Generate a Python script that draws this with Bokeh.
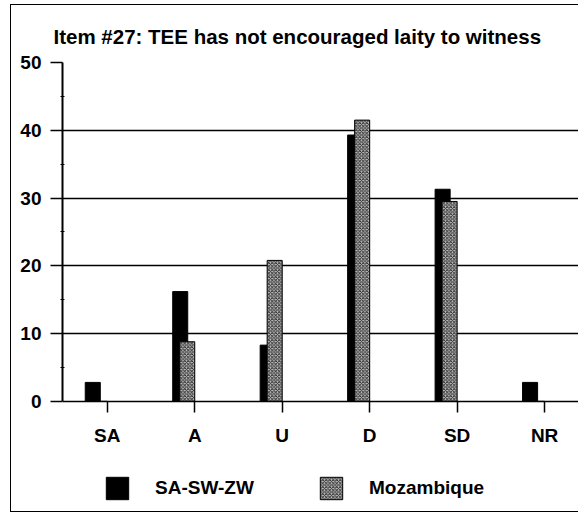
from bokeh.plotting import figure
from bokeh.models import Range1d, FixedTicker, Legend, LegendItem, ColumnDataSource
from bokeh.transform import dodge
from bokeh.embed import file_html
from bokeh.resources import INLINE

# ---- data ----
categories = ["SA", "A", "U", "D", "SD", "NR"]
sa_sw_zw = [2.8, 16.2, 8.3, 39.3, 31.3, 2.8]
mozambique = [0, 8.8, 20.8, 41.5, 29.5, 0]
y_ticks = [0, 10, 20, 30, 40, 50]
title_text = "Item #27: TEE has not encouraged laity to witness"
series_names = ["SA-SW-ZW", "Mozambique"]

FONT = "Liberation Sans"
FS = "19px"

positions = list(range(len(categories)))
src = ColumnDataSource(dict(pos=positions, cat=categories, s1=sa_sw_zw, s2=mozambique))

# frame extends below zero to leave room for the category labels and legend
p = figure(width=568, height=508, output_backend="svg", toolbar_location=None,
           x_range=Range1d(-0.512, 5.399), y_range=Range1d(-16.54, 50),
           min_border_left=51, min_border_right=0, min_border_top=57,
           min_border_bottom=0, title=title_text)

p.styles = {"margin-left": "10px", "margin-top": "4px",
            "border-left": "1px solid black", "border-top": "1px solid black",
            "border-bottom": "1px solid black"}

p.title.text_font = FONT
p.title.text_font_size = "20.5px"
p.title.text_font_style = "bold"
p.title.align = "left"
p.title.offset = -9
p.title.standoff = 29
p.title.text_color = "black"

p.outline_line_color = None
p.background_fill_color = "white"
p.border_fill_color = "white"

r1 = p.vbar(x=dodge("pos", -0.166, range=p.x_range), top="s1", width=0.172, source=src,
            fill_color="black", line_color="black", line_width=1)
r2 = p.vbar(x=dodge("pos", -0.086, range=p.x_range), top="s2", width=0.172, source=src,
            fill_color="#c0c0c0", line_color="black", line_width=1,
            hatch_pattern="diagonal_cross", hatch_color="#222222", hatch_scale=3.5,
            hatch_weight=0.9)

# x axis, pinned at value 0
p.xaxis.fixed_location = 0
p.xaxis.ticker = FixedTicker(ticks=positions)
p.xaxis.major_label_overrides = {i: c for i, c in zip(positions, categories)}
p.xaxis.major_tick_out = 11
p.xaxis.major_tick_in = 0
p.xaxis.minor_tick_line_color = None
p.xaxis.axis_line_width = 1.5
p.xaxis.major_tick_line_width = 1.5
p.xaxis.axis_line_color = "black"
p.xaxis.major_tick_line_color = "black"
p.xaxis.major_label_text_font = FONT
p.xaxis.major_label_text_font_size = FS
p.xaxis.major_label_text_font_style = "bold"
p.xaxis.major_label_text_color = "black"
p.xaxis.major_label_standoff = 13

# y axis
p.yaxis.bounds = (0, 50)
p.yaxis.ticker = FixedTicker(ticks=y_ticks, minor_ticks=[5, 15, 25, 35, 45])
p.yaxis.major_tick_out = 12
p.yaxis.major_tick_in = 0
p.yaxis.minor_tick_in = 2
p.yaxis.minor_tick_out = 2
p.yaxis.axis_line_width = 2
p.yaxis.major_tick_line_width = 1.5
p.yaxis.axis_line_color = "black"
p.yaxis.major_tick_line_color = "black"
p.yaxis.minor_tick_line_color = "black"
p.yaxis.major_label_text_font = FONT
p.yaxis.major_label_text_font_size = FS
p.yaxis.major_label_text_font_style = "bold"
p.yaxis.major_label_text_color = "black"
p.yaxis.major_label_standoff = 9

p.xgrid.grid_line_color = None
p.ygrid.ticker = FixedTicker(ticks=y_ticks[1:])
p.ygrid.grid_line_color = "black"
p.ygrid.grid_line_width = 1.3

legend = Legend(items=[LegendItem(label=series_names[0], renderers=[r1]),
                       LegendItem(label=series_names[1], renderers=[r2])],
                orientation="horizontal", location=(41, 11),
                glyph_width=28, glyph_height=28, label_standoff=24,
                label_width=140, spacing=22,
                padding=0, margin=0, border_line_color=None, background_fill_alpha=0,
                label_text_font=FONT, label_text_font_size=FS,
                label_text_font_style="bold", label_text_color="black")
p.add_layout(legend, "center")

open("out.html", "w").write(file_html(p, INLINE))
